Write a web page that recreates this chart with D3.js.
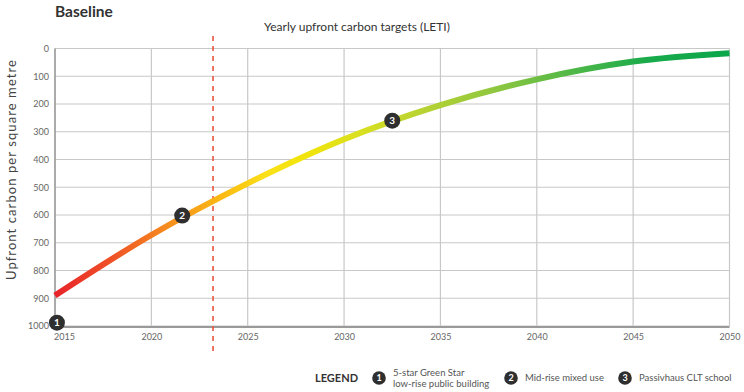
<!DOCTYPE html>
<html>
<head>
<meta charset="utf-8">
<script src="https://cdn.jsdelivr.net/npm/d3@7"></script>
<style>
  html, body { margin: 0; padding: 0; background: #fff; }
  svg { display: block; }
  text { font-family: Lato, "Open Sans", "DejaVu Sans", sans-serif; }
</style>
</head>
<body>
<svg id="chart" width="744" height="392"></svg>
<script>
// ---- data ----
const years = [2015, 2020, 2025, 2030, 2035, 2040, 2045, 2050];
const carbonValues = [890, 672, 486, 327, 204, 111, 47, 17];
const xTicks = [2015, 2020, 2025, 2030, 2035, 2040, 2045, 2050];
const yTicks = [0, 100, 200, 300, 400, 500, 600, 700, 800, 900, 1000];
const markerYears = [2015.1, 2021.6, 2032.5];
const markerValues = [988, 602, 260];
const markerLabels = ["1", "2", "3"];
const legendLabels = [["5-star Green Star", "low-rise public building"], ["Mid-rise mixed use"], ["Passivhaus CLT school"]];
const targetYear = 2023.2;
const gradientYears = [2015, 2018, 2021, 2024, 2026, 2028, 2031, 2034, 2038, 2042, 2046, 2050];
const gradientColors = ["#e8232a", "#ef5226", "#f6901e", "#fbbf12", "#fae11a", "#f1e40a", "#d8df22", "#b8d332", "#8cc63f", "#4db748", "#17aa4b", "#0ba64b"];

const svg = d3.select("#chart");
const M = { left: 55, right: 729.5, top: 48.5, bottom: 326 };

const x = d3.scaleLinear().domain([2015, 2050]).range([M.left, M.right]);
const y = d3.scaleLinear().domain([0, 1000]).range([M.top, M.bottom]);

// title
svg.append("text").attr("x", 55).attr("y", 17).attr("font-size", 15.5).attr("font-weight", 700)
  .attr("fill", "#333").text("Baseline");
svg.append("text").attr("x", 357).attr("y", 31).attr("text-anchor", "middle").attr("font-size", 12)
  .attr("fill", "#333").text("Yearly upfront carbon targets (LETI)");

// y axis title
svg.append("text").attr("transform", "translate(16,170) rotate(-90)").attr("text-anchor", "middle")
  .attr("font-size", 13).attr("fill", "#444")
  .attr("textLength", 220).attr("lengthAdjust", "spacing")
  .text("Upfront carbon per square metre");

// grid
const grid = svg.append("g");
grid.selectAll("line.h").data(yTicks).join("line")
  .attr("x1", M.left).attr("x2", M.right).attr("y1", d => y(d)).attr("y2", d => y(d))
  .attr("stroke", "#c8c8c8").attr("stroke-width", 1.2);
grid.selectAll("line.v").data(xTicks).join("line")
  .attr("x1", d => x(d)).attr("x2", d => x(d)).attr("y1", M.top).attr("y2", M.bottom)
  .attr("stroke", "#c8c8c8").attr("stroke-width", 1.2);

// axes lines
svg.append("line").attr("x1", M.left).attr("x2", M.left).attr("y1", M.top).attr("y2", M.bottom)
  .attr("stroke", "#9a9a9a").attr("stroke-width", 1.5);
svg.append("line").attr("x1", M.left).attr("x2", M.right).attr("y1", M.bottom + 1).attr("y2", M.bottom + 1)
  .attr("stroke", "#9a9a9a").attr("stroke-width", 2);

// axis labels via d3 axes
const yAxis = svg.append("g").attr("transform", `translate(${M.left - 6},0)`)
  .call(d3.axisLeft(y).tickValues(yTicks).tickSize(0).tickPadding(0).tickFormat(d3.format("d")));
yAxis.select(".domain").remove();
yAxis.selectAll("text").attr("font-size", 9).attr("fill", "#666").attr("font-family", "Lato, sans-serif");

const xAxis = svg.append("g").attr("transform", `translate(0,${M.bottom + 8})`)
  .call(d3.axisBottom(x).tickValues(xTicks).tickSize(0).tickPadding(0).tickFormat(d3.format("d")));
xAxis.select(".domain").remove();
xAxis.selectAll("text").attr("font-size", 9).attr("fill", "#666").attr("font-family", "Lato, sans-serif")
  .attr("dx", d => d === 2015 ? 9 : 0);

// gradient
const defs = svg.append("defs");
const grad = defs.append("linearGradient").attr("id", "lineGrad")
  .attr("gradientUnits", "userSpaceOnUse")
  .attr("x1", x(2015)).attr("x2", x(2050)).attr("y1", 0).attr("y2", 0);
grad.selectAll("stop").data(gradientYears).join("stop")
  .attr("offset", d => (d - 2015) / 35)
  .attr("stop-color", (d, i) => gradientColors[i]);

// dashed target line
svg.append("line").attr("x1", x(targetYear)).attr("x2", x(targetYear)).attr("y1", 36).attr("y2", 354)
  .attr("stroke", "#e9553f").attr("stroke-width", 1.6).attr("stroke-dasharray", "5,5");

// curve
const pts = years.map((yr, i) => [yr, carbonValues[i]]);
const line = d3.line().x(d => x(d[0])).y(d => y(d[1])).curve(d3.curveMonotoneX);
svg.append("path").attr("d", line(pts)).attr("fill", "none")
  .attr("stroke", "url(#lineGrad)").attr("stroke-width", 6);

// markers
const mk = svg.append("g").selectAll("g").data(markerYears).join("g")
  .attr("transform", (d, i) => `translate(${x(d)},${y(markerValues[i])})`);
mk.append("circle").attr("r", 8).attr("fill", "#2f2f2f");
mk.append("text").attr("text-anchor", "middle").attr("dy", "0.36em").attr("font-size", 10)
  .attr("font-weight", 700).attr("fill", "#fff").text((d, i) => markerLabels[i]);

// legend
svg.append("text").attr("x", 315).attr("y", 382).attr("font-size", 11).attr("font-weight", 700)
  .attr("fill", "#333").text("LEGEND");
const legendX = [379, 511, 625];
const lg = svg.append("g").selectAll("g").data(markerLabels).join("g")
  .attr("transform", (d, i) => `translate(${legendX[i]},378)`);
lg.append("circle").attr("r", 6.8).attr("fill", "#2f2f2f");
lg.append("text").attr("text-anchor", "middle").attr("dy", "0.36em").attr("font-size", 9)
  .attr("font-weight", 700).attr("fill", "#fff").text(d => d);
lg.each(function(d, i) {
  const lines = legendLabels[i];
  const g = d3.select(this);
  lines.forEach((t, j) => {
    g.append("text").attr("x", 14)
      .attr("y", lines.length === 1 ? 3 : (j === 0 ? -2.5 : 8.5))
      .attr("font-size", 9.5).attr("fill", "#555").text(t);
  });
});
</script>
</body>
</html>
